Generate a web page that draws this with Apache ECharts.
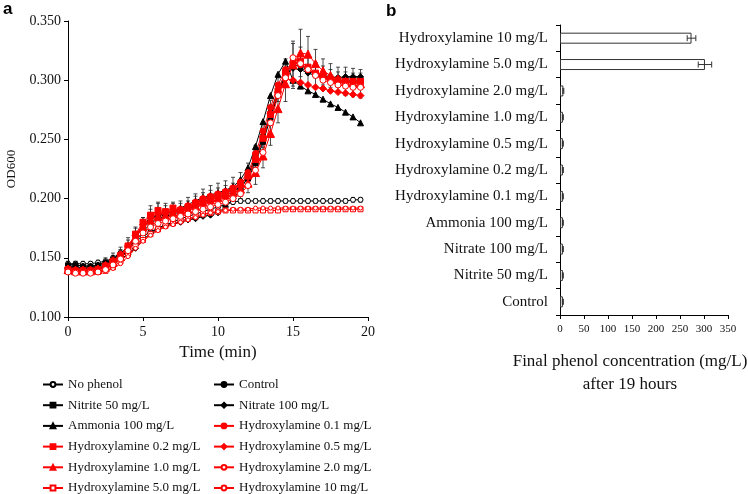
<!DOCTYPE html>
<html><head><meta charset="utf-8">
<script src="https://cdn.jsdelivr.net/npm/echarts@6/dist/echarts.min.js"></script>
<style>html,body{margin:0;padding:0;background:#fff}#c{width:748px;height:494px}</style>
</head><body><div id="c"></div>
<script>
// ---- Panel a data: OD600 vs time (min) ----
const times = [0,0.5,1,1.5,2,2.5,3,3.5,4,4.5,5,5.5,6,6.5,7,7.5,8,8.5,9,9.5,10,10.5,11,11.5,12,12.5,13,13.5,14,14.5,15,15.5,16,16.5,17,17.5,18,18.5,19,19.5];
const noPhenol = [0.145,0.145,0.145,0.145,0.146,0.147,0.150,0.154,0.159,0.164,0.168,0.172,0.175,0.178,0.180,0.183,0.185,0.187,0.189,0.191,0.193,0.195,0.197,0.198,0.198,0.198,0.198,0.198,0.198,0.198,0.198,0.198,0.198,0.198,0.198,0.198,0.198,0.198,0.199,0.199];
const control = [0.144,0.144,0.143,0.143,0.144,0.146,0.149,0.153,0.160,0.168,0.176,0.182,0.186,0.187,0.189,0.190,0.193,0.196,0.199,0.201,0.203,0.205,0.208,0.212,0.220,0.235,0.253,0.273,0.292,0.306,0.313,0.312,0.308,0.305,0.304,0.303,0.302,0.302,0.302,0.302];
const nitrite50 = [0.143,0.142,0.142,0.142,0.143,0.145,0.148,0.151,0.156,0.164,0.172,0.179,0.183,0.185,0.187,0.189,0.191,0.194,0.197,0.199,0.201,0.203,0.206,0.210,0.217,0.230,0.248,0.268,0.288,0.304,0.316,0.314,0.309,0.305,0.302,0.301,0.300,0.300,0.300,0.300];
const nitrate100 = [0.142,0.142,0.141,0.141,0.142,0.144,0.146,0.149,0.153,0.158,0.165,0.171,0.175,0.177,0.179,0.180,0.182,0.183,0.185,0.186,0.188,0.193,0.200,0.208,0.218,0.233,0.251,0.270,0.290,0.305,0.310,0.309,0.306,0.304,0.303,0.302,0.302,0.303,0.303,0.303];
const ammonia100 = [0.144,0.144,0.143,0.143,0.144,0.146,0.149,0.153,0.159,0.167,0.176,0.183,0.187,0.188,0.190,0.192,0.195,0.198,0.201,0.203,0.205,0.207,0.210,0.216,0.226,0.244,0.265,0.287,0.305,0.316,0.300,0.295,0.291,0.288,0.284,0.280,0.277,0.273,0.269,0.264];
const hyd01 = [0.140,0.139,0.139,0.139,0.140,0.143,0.147,0.152,0.159,0.168,0.177,0.184,0.188,0.188,0.190,0.191,0.194,0.197,0.200,0.202,0.204,0.206,0.209,0.214,0.222,0.238,0.257,0.277,0.296,0.309,0.315,0.313,0.309,0.305,0.302,0.300,0.299,0.298,0.298,0.298];
const hyd02 = [0.140,0.139,0.139,0.139,0.140,0.143,0.147,0.152,0.160,0.170,0.180,0.186,0.190,0.189,0.192,0.190,0.193,0.196,0.199,0.201,0.203,0.205,0.208,0.212,0.219,0.233,0.251,0.271,0.291,0.306,0.314,0.316,0.311,0.306,0.303,0.301,0.300,0.299,0.299,0.299];
const hyd05 = [0.141,0.140,0.140,0.140,0.141,0.144,0.148,0.153,0.160,0.169,0.178,0.184,0.187,0.188,0.189,0.190,0.192,0.195,0.197,0.199,0.201,0.203,0.206,0.211,0.219,0.234,0.252,0.272,0.290,0.301,0.300,0.298,0.296,0.294,0.293,0.291,0.290,0.289,0.288,0.287];
const hyd10 = [0.140,0.139,0.139,0.139,0.140,0.142,0.146,0.151,0.158,0.167,0.176,0.182,0.185,0.186,0.188,0.189,0.191,0.194,0.197,0.199,0.201,0.203,0.205,0.208,0.213,0.222,0.236,0.255,0.276,0.297,0.313,0.323,0.322,0.314,0.308,0.304,0.301,0.299,0.298,0.297];
const hyd20 = [0.138,0.137,0.137,0.137,0.138,0.140,0.144,0.149,0.156,0.164,0.171,0.176,0.179,0.181,0.183,0.185,0.187,0.189,0.191,0.193,0.195,0.197,0.200,0.204,0.211,0.224,0.239,0.264,0.287,0.302,0.319,0.314,0.309,0.304,0.300,0.298,0.296,0.295,0.294,0.294];
const hyd50 = [0.139,0.138,0.138,0.138,0.138,0.139,0.142,0.147,0.153,0.160,0.165,0.170,0.174,0.177,0.179,0.181,0.183,0.185,0.187,0.188,0.189,0.190,0.190,0.190,0.190,0.190,0.190,0.190,0.190,0.191,0.191,0.191,0.191,0.191,0.191,0.191,0.191,0.191,0.191,0.191];
const hyd100 = [0.138,0.137,0.137,0.137,0.138,0.139,0.141,0.145,0.151,0.158,0.164,0.169,0.173,0.176,0.178,0.180,0.182,0.184,0.186,0.188,0.189,0.190,0.191,0.191,0.191,0.192,0.192,0.192,0.192,0.192,0.192,0.192,0.192,0.192,0.192,0.192,0.192,0.192,0.192,0.192];
// error bars (SD)
const controlErr = [0.003,0.003,0.003,0.003,0.003,0.004,0.005,0.006,0.007,0.008,0.008,0.009,0.010,0.009,0.008,0.008,0.008,0.008,0.009,0.010,0.010,0.010,0.010,0.010,0.010,0.010,0.010,0.010,0.010,0.012,0.018,0.016,0.012,0.010,0.008,0.006,0.005,0.005,0.004,0.004];
const hyd10Err = [0.002,0.002,0.002,0.002,0.003,0.004,0.005,0.006,0.007,0.008,0.008,0.012,0.012,0.008,0.008,0.007,0.007,0.008,0.008,0.008,0.008,0.008,0.008,0.008,0.008,0.010,0.010,0.010,0.012,0.015,0.020,0.020,0.015,0.012,0.010,0.010,0.010,0.012,0.012,0.012];
const noPhenolErr = [0.002,0.002,0.002,0.002,0.002,0.002,0.002,0.002,0.002,0.002,0.002,0.002,0.002,0.002,0.002,0.002,0.002,0.002,0.002,0.002,0.002,0.002,0.002,0.002,0.002,0.002,0.002,0.002,0.002,0.002,0.002,0.002,0.002,0.002,0.002,0.002,0.002,0.002,0.002,0.002];
const odTicks = [0.100,0.150,0.200,0.250,0.300,0.350];
const timeTicks = [0,5,10,15,20];

// ---- Panel b data: final phenol concentration ----
const barCategories = ['Control','Nitrite 50 mg/L','Nitrate 100 mg/L','Ammonia 100 mg/L','Hydroxylamine 0.1 mg/L','Hydroxylamine 0.2 mg/L','Hydroxylamine 0.5 mg/L','Hydroxylamine 1.0 mg/L','Hydroxylamine 2.0 mg/L','Hydroxylamine 5.0 mg/L','Hydroxylamine 10 mg/L'];
const barValues = [6,6,6,6,6,6,6,6,7,302,274];
const barErrors = [1,1,1,1,1,1,1,1,1,14,9];
const phenolTicks = [0,50,100,150,200,250,300,350];

const FONT = "'Liberation Serif','Times New Roman',serif";
const RED = '#ff0000';
const specs = [
  ['No phenol', noPhenol, 'circle', '#000', '#fff', 5],
  ['Control', control, 'circle', '#000', '#000', 5],
  ['Nitrite 50 mg/L', nitrite50, 'rect', '#000', '#000', 5],
  ['Nitrate 100 mg/L', nitrate100, 'diamond', '#000', '#000', 6],
  ['Ammonia 100 mg/L', ammonia100, 'triangle', '#000', '#000', 6],
  ['Hydroxylamine 0.1 mg/L', hyd01, 'circle', RED, RED, 6],
  ['Hydroxylamine 0.2 mg/L', hyd02, 'rect', RED, RED, 6],
  ['Hydroxylamine 0.5 mg/L', hyd05, 'diamond', RED, RED, 7],
  ['Hydroxylamine 1.0 mg/L', hyd10, 'triangle', RED, RED, 8],
  ['Hydroxylamine 5.0 mg/L', hyd50, 'rect', RED, '#fff', 5],
  ['Hydroxylamine 10 mg/L', hyd100, 'circle', RED, '#fff', 4],
  ['Hydroxylamine 2.0 mg/L', hyd20, 'circle', RED, '#fff', 6]
];

function errData(vals, errs){ return times.map((t,i)=>[t, vals[i], errs[i]]); }
function errRender(params, api){
  const x = api.value(0), y = api.value(1), e = api.value(2);
  const p1 = api.coord([x, y + e]), p2 = api.coord([x, y - e]);
  const st = {stroke:'#222', lineWidth:0.8};
  return {type:'group', children:[
    {type:'line', shape:{x1:p1[0],y1:p1[1],x2:p2[0],y2:p2[1]}, style:st},
    {type:'line', shape:{x1:p1[0]-2,y1:p1[1],x2:p1[0]+2,y2:p1[1]}, style:st},
    {type:'line', shape:{x1:p2[0]-2,y1:p2[1],x2:p2[0]+2,y2:p2[1]}, style:st}
  ]};
}

const series = [];
[[noPhenol,noPhenolErr],[control,controlErr],[hyd10,hyd10Err]].forEach(([v,e])=>{
  series.push({type:'custom', xAxisIndex:0, yAxisIndex:0, renderItem:errRender, data:errData(v,e), z:1, silent:true});
});
specs.forEach(([name, vals, sym, col, fill, size])=>{
  series.push({
    name, type:'line', xAxisIndex:0, yAxisIndex:0,
    data: times.map((t,i)=>[t, vals[i]]),
    symbol: sym, symbolSize: size, showAllSymbol:true,
    lineStyle:{color:col, width:1},
    itemStyle:{color:fill, borderColor:col, borderWidth:1},
    z:3
  });
});
series.push({
  type:'bar', xAxisIndex:1, yAxisIndex:1, data:barValues, barWidth:11,
  itemStyle:{color:'#fff', borderColor:'#333', borderWidth:1}, z:2
});
series.push({
  type:'custom', xAxisIndex:1, yAxisIndex:1,
  data: barValues.map((v,i)=>[v, i, barErrors[i]]),
  renderItem:(params, api)=>{
    const v = api.value(0), c = api.value(1), e = api.value(2);
    const a = api.coord([v - e, c]), b = api.coord([v + e, c]);
    const st = {stroke:'#333', lineWidth:1};
    return {type:'group', children:[
      {type:'line', shape:{x1:a[0],y1:a[1],x2:b[0],y2:b[1]}, style:st},
      {type:'line', shape:{x1:a[0],y1:a[1]-3,x2:a[0],y2:a[1]+3}, style:st},
      {type:'line', shape:{x1:b[0],y1:b[1]-3,x2:b[0],y2:b[1]+3}, style:st}
    ]};
  }, z:3
});

const chart = echarts.init(document.getElementById('c'), null, {renderer:'canvas'});
const axisLine = {show:true, lineStyle:{color:'#000', width:1}};
const axisTick = {show:true, length:4, lineStyle:{color:'#000'}};
const legendText = {fontFamily:FONT, fontSize:13, color:'#111', lineHeight:12};
chart.setOption({
  animation:false,
  backgroundColor:'#fff',
  graphic:[
    {type:'text', left:3, top:1, style:{text:'a', font:"bold 17px 'Liberation Sans',Arial,sans-serif", fill:'#000'}},
    {type:'text', left:386, top:3, style:{text:'b', font:"bold 17px 'Liberation Sans',Arial,sans-serif", fill:'#000'}}
  ],
  grid:[
    {left:68, top:21, width:300, height:296, outerBoundsMode:'none', containLabel:false},
    {left:560, top:25, width:168, height:290, outerBoundsMode:'none', containLabel:false}
  ],
  xAxis:[
    {type:'value', gridIndex:0, min:timeTicks[0], max:timeTicks[timeTicks.length-1], interval:5,
     axisLine, axisTick, splitLine:{show:false},
     axisLabel:{fontFamily:FONT, fontSize:14, color:'#111', margin:8},
     name:'Time (min)', nameLocation:'middle', nameGap:27,
     nameTextStyle:{fontFamily:FONT, fontSize:17, color:'#111'}},
    {type:'value', gridIndex:1, min:phenolTicks[0], max:phenolTicks[phenolTicks.length-1], interval:50,
     axisLine, axisTick, splitLine:{show:false},
     axisLabel:{fontFamily:FONT, fontSize:11, color:'#111', margin:9},
     name:'Final phenol concentration (mg/L)\nafter 19 hours', nameLocation:'middle', nameGap:35,
     nameTextStyle:{fontFamily:FONT, fontSize:17, color:'#111', lineHeight:23, padding:[0,28,0,0]}}
  ],
  yAxis:[
    {type:'value', gridIndex:0, min:odTicks[0], max:odTicks[odTicks.length-1], interval:0.05,
     axisLine, axisTick, splitLine:{show:false},
     axisLabel:{fontFamily:FONT, fontSize:14, color:'#111', margin:7, formatter:v=>v.toFixed(3)},
     name:'OD600', nameLocation:'middle', nameGap:50,
     nameTextStyle:{fontFamily:FONT, fontSize:13, color:'#111'}},
    {type:'category', gridIndex:1, data:barCategories,
     axisLine, axisTick, splitLine:{show:false},
     axisLabel:{fontFamily:FONT, fontSize:15, color:'#111', margin:12}}
  ],
  legend:[
    {orient:'vertical', left:42, top:378, height:140, padding:0, itemWidth:20, itemHeight:6, itemGap:7.7, textStyle:legendText,
     data:['No phenol','Nitrite 50 mg/L','Ammonia 100 mg/L','Hydroxylamine 0.2 mg/L','Hydroxylamine 1.0 mg/L','Hydroxylamine 5.0 mg/L']},
    {orient:'vertical', left:213, top:378, height:140, padding:0, itemWidth:20, itemHeight:6, itemGap:7.7, textStyle:legendText,
     data:['Control','Nitrate 100 mg/L','Hydroxylamine 0.1 mg/L','Hydroxylamine 0.5 mg/L','Hydroxylamine 2.0 mg/L','Hydroxylamine 10 mg/L']}
  ],
  series
});
</script></body></html>
